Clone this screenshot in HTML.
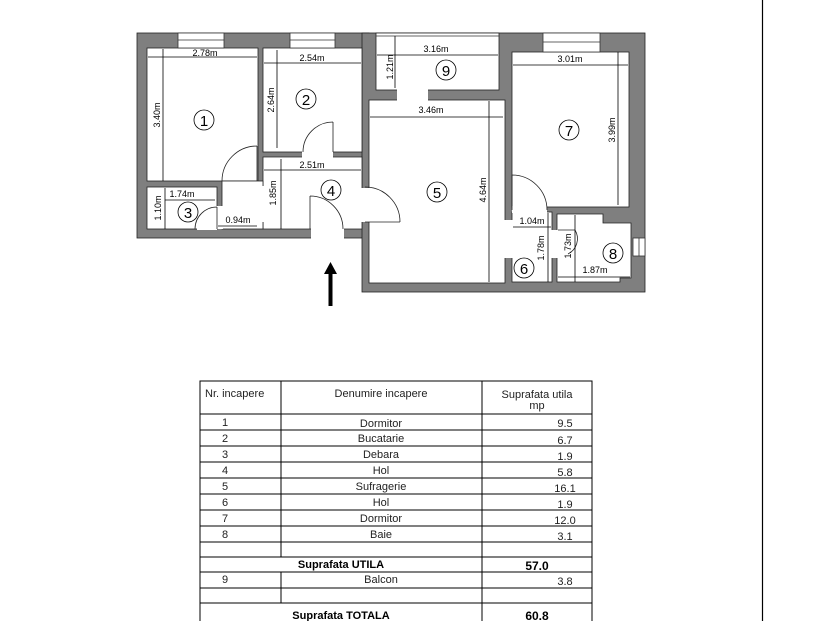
<!DOCTYPE html>
<html><head><meta charset="utf-8"><style>
body{margin:0;background:#fff;width:830px;height:621px;overflow:hidden;position:relative;font-family:"Liberation Sans",sans-serif}
svg{position:absolute;left:0;top:0}
</style></head><body>
<svg width="830" height="621" viewBox="0 0 830 621" font-family="Liberation Sans, sans-serif">
<line x1="762.5" y1="0" x2="762.5" y2="621" stroke="#000" stroke-width="1.2"/>
<g fill="#7f7f7f" stroke="#222" stroke-width="0.8">
<rect x="137" y="33" width="232" height="205"/>
<rect x="362" y="33" width="283" height="259"/>
</g>
<g fill="#fff" stroke="#222" stroke-width="0.8">
<rect x="147" y="48" width="111" height="133"/>
<rect x="263" y="48" width="99" height="104"/>
<rect x="147" y="187" width="70" height="42"/>
<polygon points="263,157 362,157 362,229 263,229"/>
<rect x="222" y="181" width="41" height="48"/>
<rect x="376" y="33" width="123" height="57"/>
<rect x="369" y="100" width="136" height="183"/>
<rect x="512" y="52" width="117" height="155"/>
<rect x="512" y="212" width="40" height="70"/>
<polygon points="557,214 603,214 603,223 631,223 631,278 620,278 620,282 557,282"/>
</g>
<g fill="#fff" stroke="none">
<rect x="259" y="186" width="5" height="36"/>
<rect x="302" y="151" width="31" height="7"/>
<rect x="311" y="228" width="33" height="11"/>
<rect x="361" y="188" width="9" height="34"/>
<rect x="397" y="89" width="31" height="12"/>
<rect x="504" y="220" width="9" height="38"/>
<rect x="512" y="206" width="35" height="7"/>
<rect x="551" y="230" width="7" height="28"/>
<rect x="197" y="228" width="20" height="2"/>
<rect x="216" y="206" width="7" height="23"/>
</g>
<g fill="#fff" stroke="#333" stroke-width="0.8">
<rect x="178" y="33" width="46" height="15"/><line x1="178" y1="40" x2="224" y2="40"/>
<rect x="290" y="33" width="45" height="15"/><line x1="290" y1="40" x2="335" y2="40"/>
<rect x="543" y="33" width="57" height="19"/><line x1="543" y1="42" x2="600" y2="42"/>
<rect x="633" y="238" width="12" height="18"/><line x1="639" y1="238" x2="639" y2="256"/>
<line x1="376" y1="36" x2="499" y2="36"/>
</g>
<g fill="none" stroke="#222" stroke-width="0.8">
<path d="M257 146 L257 181 M222 181 A35 35 0 0 1 257 146"/>
<path d="M333 122 L333 152 M303 152 A30 30 0 0 1 333 122"/>
<path d="M217 207 L217 229 M195 229 A22 22 0 0 1 217 207"/>
<path d="M310 196 L310 229 M310 196 A33 33 0 0 1 343 229"/>
<path d="M365 222 L400 222 M365 187 A35 35 0 0 1 400 222"/>
<path d="M512 175 L512 210 M512 175 A35 35 0 0 1 547 210"/>
<path d="M558 230 L575 230 M575 230 A17 17 0 0 1 568 254"/>
</g>
<g stroke="#000" stroke-width="0.8">
<line x1="148" y1="57" x2="257" y2="57"/><line x1="163" y1="49" x2="163" y2="181"/>
<line x1="264" y1="63" x2="361" y2="63"/><line x1="277" y1="50" x2="277" y2="148"/>
<line x1="264" y1="170" x2="361" y2="170"/><line x1="281" y1="159" x2="281" y2="229"/>
<line x1="165" y1="200" x2="215" y2="200"/><line x1="165" y1="188" x2="165" y2="229"/>
<line x1="218" y1="226" x2="257" y2="226"/>
<line x1="377" y1="55" x2="498" y2="55"/><line x1="395" y1="36" x2="395" y2="88"/>
<line x1="370" y1="117" x2="503" y2="117"/><line x1="489" y1="101" x2="489" y2="282"/>
<line x1="513" y1="65" x2="628" y2="65"/><line x1="618" y1="52" x2="618" y2="205"/>
<line x1="513" y1="227" x2="551" y2="227"/><line x1="548" y1="213" x2="548" y2="282"/>
<line x1="575" y1="215" x2="575" y2="282"/><line x1="558" y1="277" x2="630" y2="277"/>
</g>
<g font-size="9" fill="#000" text-anchor="middle">
<text x="205" y="56">2.78m</text><text x="312" y="61">2.54m</text><text x="312" y="168">2.51m</text>
<text x="182" y="197">1.74m</text><text x="238" y="223">0.94m</text>
<text x="436" y="52">3.16m</text><text x="431" y="113">3.46m</text><text x="570" y="62">3.01m</text>
<text x="532" y="224">1.04m</text><text x="595" y="273">1.87m</text>
<text transform="translate(160,115) rotate(-90)">3.40m</text>
<text transform="translate(274,100) rotate(-90)">2.64m</text>
<text transform="translate(276,193) rotate(-90)">1.85m</text>
<text transform="translate(161,208) rotate(-90)">1.10m</text>
<text transform="translate(393,67) rotate(-90)">1.21m</text>
<text transform="translate(486,190) rotate(-90)">4.64m</text>
<text transform="translate(615,130) rotate(-90)">3.99m</text>
<text transform="translate(544,248) rotate(-90)">1.78m</text>
<text transform="translate(571,246) rotate(-90)">1.73m</text>
</g>
<g fill="none" stroke="#000" stroke-width="0.8">
<circle cx="204" cy="120" r="10"/><circle cx="306" cy="99" r="10"/><circle cx="188" cy="212" r="10"/>
<circle cx="331" cy="190" r="10"/><circle cx="437" cy="192" r="10"/><circle cx="524" cy="268" r="10"/>
<circle cx="569" cy="130" r="10"/><circle cx="613" cy="253" r="10"/><circle cx="446" cy="70" r="10"/>
</g>
<g font-size="15" text-anchor="middle" fill="#000">
<text x="204" y="126">1</text><text x="306" y="105">2</text><text x="188" y="218">3</text>
<text x="331" y="196">4</text><text x="437" y="198">5</text><text x="524" y="274">6</text>
<text x="569" y="136">7</text><text x="613" y="259">8</text><text x="446" y="76">9</text>
</g>
<rect x="328.5" y="272" width="4" height="34" fill="#000"/>
<polygon points="324,274 337,274 330.5,262" fill="#000"/>
<g stroke="#000" stroke-width="1" fill="none">
<rect x="200" y="381" width="392" height="245"/>
<line x1="200" y1="414" x2="592" y2="414"/>
<line x1="200" y1="430" x2="592" y2="430"/><line x1="200" y1="446" x2="592" y2="446"/>
<line x1="200" y1="462" x2="592" y2="462"/><line x1="200" y1="478" x2="592" y2="478"/>
<line x1="200" y1="494" x2="592" y2="494"/><line x1="200" y1="510" x2="592" y2="510"/>
<line x1="200" y1="526" x2="592" y2="526"/><line x1="200" y1="542" x2="592" y2="542"/>
<line x1="200" y1="557" x2="592" y2="557"/><line x1="200" y1="572" x2="592" y2="572"/>
<line x1="200" y1="588" x2="592" y2="588"/><line x1="200" y1="603" x2="592" y2="603"/>
<line x1="281" y1="381" x2="281" y2="557"/><line x1="281" y1="572" x2="281" y2="603"/>
<line x1="482" y1="381" x2="482" y2="626"/>
</g>
<g font-size="11" fill="#222">
<text x="205" y="397">Nr. incapere</text>
<text x="381" y="397" text-anchor="middle">Denumire incapere</text>
<text x="537" y="398" text-anchor="middle">Suprafata utila</text>
<text x="537" y="409" text-anchor="middle">mp</text>
<g text-anchor="middle">
<text x="225" y="426">1</text><text x="381" y="427">Dormitor</text><text x="565" y="427">9.5</text>
<text x="225" y="442">2</text><text x="381" y="442">Bucatarie</text><text x="565" y="444">6.7</text>
<text x="225" y="458">3</text><text x="381" y="458">Debara</text><text x="565" y="460">1.9</text>
<text x="225" y="474">4</text><text x="381" y="474">Hol</text><text x="565" y="476">5.8</text>
<text x="225" y="490">5</text><text x="381" y="490">Sufragerie</text><text x="565" y="492">16.1</text>
<text x="225" y="506">6</text><text x="381" y="506">Hol</text><text x="565" y="508">1.9</text>
<text x="225" y="522">7</text><text x="381" y="522">Dormitor</text><text x="565" y="524">12.0</text>
<text x="225" y="538">8</text><text x="381" y="538">Baie</text><text x="565" y="540">3.1</text>
<text x="341" y="568" font-weight="bold" fill="#000">Suprafata UTILA</text>
<text x="537" y="570" font-weight="bold" font-size="12" fill="#000">57.0</text>
<text x="225" y="583">9</text><text x="381" y="583">Balcon</text><text x="565" y="585">3.8</text>
<text x="341" y="619" font-weight="bold" fill="#000">Suprafata TOTALA</text>
<text x="537" y="620" font-weight="bold" font-size="12" fill="#000">60.8</text>
</g></g>
</svg>
</body></html>
